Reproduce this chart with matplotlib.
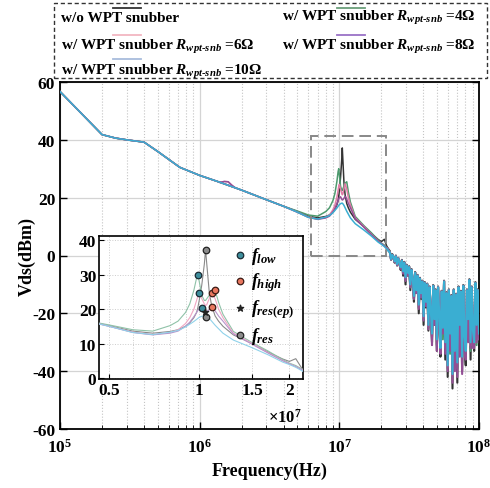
import numpy as np
import matplotlib
matplotlib.use("Agg")
import matplotlib.pyplot as plt
from matplotlib.lines import Line2D
from matplotlib.patches import Rectangle

plt.rcParams['font.family'] = 'Liberation Serif'
plt.rcParams['font.weight'] = 'bold'
plt.rcParams['axes.unicode_minus'] = False
plt.rcParams['mathtext.fontset'] = 'custom'
plt.rcParams['mathtext.rm'] = 'Liberation Serif:bold'
plt.rcParams['mathtext.bf'] = 'Liberation Serif:bold'
plt.rcParams['mathtext.it'] = 'Liberation Serif:bold:italic'

# ---- data ----
# shared low-frequency part (all curves overlap)
base_f = [1e5, 2e5, 2.5e5, 3e5, 4e5, 5e5, 7.2e5, 1e6, 1.4e6, 1.8e6, 2e6, 3e6, 4e6]
base_db = [56.7, 41.8, 40.6, 40.0, 39.2, 36.0, 30.5, 27.7, 25.3, 23.4, 22.6, 19.3, 17.0]

# small bump near 1.6 MHz (6 and 8 ohm curves)
bump_f = [1.4e6, 1.5e6, 1.6e6, 1.7e6, 1.8e6]
bump_db = [25.3, 25.6, 25.5, 24.3, 23.4]

# resonance region
res_f = [5e6, 6e6, 7e6, 8e6, 8.5e6, 9e6, 9.3e6, 9.6e6, 9.8e6, 9.9e6, 1.0e7, 1.02e7,
         1.04e7, 1.05e7, 1.06e7, 1.08e7, 1.1e7, 1.13e7, 1.16e7, 1.2e7, 1.3e7, 1.5e7,
         1.7e7, 1.9e7, 2.0e7, 2.1e7, 2.2e7]
res_wo = [15.2, 13.6, 13.0, 13.5, 14.0, 15.0, 16.0, 17.5, 19.0, 20.5, 22.5, 27.0,
          33.0, 37.2, 33.0, 25.0, 21.0, 18.0, 16.5, 15.0, 12.5, 10.0,
          7.5, 5.5, 4.8, 5.6, 2.8]
res_4 = [15.4, 14.0, 13.6, 15.2, 16.5, 19.0, 21.5, 25.5, 29.0, 30.0, 28.0, 24.0,
         22.5, 22.5, 23.0, 24.0, 25.0, 25.5, 22.0, 18.5, 13.5, 10.3,
         7.8, 5.3, 4.3, 3.6, 2.6]
res_6 = [15.0, 13.3, 12.6, 13.2, 14.0, 15.8, 17.5, 20.0, 22.5, 23.8, 24.6, 23.0,
         21.5, 21.0, 21.3, 23.0, 24.8, 23.0, 20.0, 17.5, 13.0, 10.0,
         7.3, 5.0, 4.1, 3.3, 2.4]
res_8 = [15.0, 13.2, 12.5, 13.0, 13.6, 15.0, 16.2, 17.8, 19.0, 19.6, 20.0, 20.3,
         19.5, 19.2, 19.3, 19.8, 20.5, 19.5, 18.0, 16.5, 12.8, 9.8,
         7.2, 5.0, 4.1, 3.3, 2.4]
res_10 = [15.0, 13.2, 12.6, 13.3, 13.8, 14.8, 15.6, 16.4, 17.0, 17.3, 17.6, 17.9,
          18.1, 18.1, 17.9, 17.3, 16.5, 15.3, 14.3, 13.0, 11.0, 8.8,
          6.7, 4.6, 3.9, 3.1, 2.1]

# high-frequency noisy region (75 samples, log spaced)
noise_f = np.geomspace(2.3e7, 1e8, 75)
noise_wo = [1.5, -1.5, 0.5, -0.8, -2.5, 0.0, -3.5, -0.8, -3.0, -5.0, -1.5, -7.0, -2.2, -10.0,
            -3.2, -7.0, -3.7, -12.0, -4.7, -9.0, -16.0, -5.7, -13.0, -6.7, -20.0, -7.7, -15.0,
            -8.7, -24.0, -9.2, -18.0, -9.7, -26.0, -10.7, -21.0, -30.0, -10.2, -24.0, -11.7,
            -33.0, -10.7, -22.0, -35.0, -12.2, -28.0, -8.7, -36.0, -12.7, -42.0, -11.7, -30.0,
            -13.7, -46.0, -11.7, -38.0, -13.2, -44.0, -10.7, -27.0, -12.2, -40.0, -10.2, -31.0,
            -38.0, -11.7, -25.0, -8.2, -36.0, -10.7, -29.0, -33.0, -9.2, -27.0, -11.7, -30.0]
noise_4 = [1.2, -1.3, 0.3, -0.6, -2.2, -0.2, -3.2, -0.9, -2.7, -4.5, -1.7, -6.0, -2.4, -8.5,
           -3.4, -6.5, -3.9, -11.0, -4.9, -8.5, -15.0, -5.9, -12.5, -6.9, -18.0, -7.9, -14.0,
           -8.9, -22.0, -9.4, -17.0, -9.9, -25.0, -10.9, -20.0, -28.0, -10.4, -23.0, -11.9,
           -31.0, -10.9, -23.0, -33.0, -12.4, -29.0, -8.9, -32.0, -12.9, -39.0, -11.9, -34.0,
           -13.9, -42.0, -11.9, -37.0, -13.4, -39.0, -10.9, -33.0, -12.4, -37.0, -10.4, -35.0,
           -35.0, -11.9, -26.0, -8.4, -33.0, -10.9, -28.0, -31.0, -9.4, -31.0, -11.9, -28.0]
noise_6 = [1.0, -1.3, 0.2, -0.6, -2.2, -0.3, -3.2, -1.0, -2.7, -4.3, -1.8, -6.0, -2.5, -8.0,
           -3.5, -6.5, -4.0, -10.5, -5.0, -8.5, -14.5, -6.0, -12.5, -7.0, -17.5, -8.0, -13.5,
           -9.0, -21.5, -9.5, -16.5, -10.0, -24.5, -11.0, -19.5, -27.5, -10.5, -22.5, -12.0,
           -29.5, -11.0, -21.0, -32.5, -12.5, -26.0, -9.0, -31.0, -13.0, -38.5, -12.0, -28.0,
           -14.0, -41.5, -12.0, -34.0, -13.5, -37.5, -11.0, -25.0, -12.5, -35.5, -10.5, -29.0,
           -33.5, -12.0, -23.0, -8.5, -31.0, -11.0, -27.0, -30.5, -9.5, -25.0, -12.0, -27.5]
noise_8 = [1.1, -1.4, 0.3, -0.7, -2.3, -0.2, -3.3, -0.9, -2.8, -4.6, -1.7, -6.3, -2.4, -8.8,
           -3.4, -6.8, -3.9, -11.0, -4.9, -9.0, -15.0, -5.9, -13.0, -6.9, -18.5, -7.9, -14.5,
           -8.9, -22.5, -9.4, -17.5, -9.9, -25.5, -10.9, -20.5, -31.0, -10.4, -24.0, -11.9,
           -33.0, -10.9, -22.0, -34.0, -12.4, -27.0, -8.9, -34.0, -12.9, -40.0, -11.9, -33.0,
           -13.9, -44.0, -11.9, -40.0, -13.4, -42.0, -10.9, -35.0, -12.4, -41.0, -10.4, -33.0,
           -36.0, -11.9, -30.0, -8.4, -32.0, -10.9, -32.0, -32.0, -9.4, -30.0, -11.9, -29.0]
noise_10 = [1.0, -1.2, 0.2, -0.5, -2.0, -0.3, -3.0, -1.0, -2.5, -4.0, -1.8, -5.5, -2.5, -7.5,
            -3.5, -6.0, -4.0, -10.0, -5.0, -8.0, -14.0, -6.0, -12.0, -7.0, -17.0, -8.0, -13.0,
            -9.0, -21.0, -9.5, -16.0, -10.0, -24.0, -11.0, -19.0, -27.0, -10.5, -22.0, -12.0,
            -29.0, -11.0, -20.0, -32.0, -12.5, -25.0, -9.0, -30.0, -13.0, -38.0, -12.0, -27.0,
            -14.0, -41.0, -12.0, -33.0, -13.5, -37.0, -11.0, -24.0, -12.5, -35.0, -10.5, -28.0,
            -33.0, -12.0, -22.0, -8.5, -30.0, -11.0, -26.0, -30.0, -9.5, -24.0, -12.0, -27.0]

labels = ['w/o WPT snubber',
          r'w/ WPT snubber $R_{wpt\text{-}snb}$ =4Ω',
          r'w/ WPT snubber $R_{wpt\text{-}snb}$ =6Ω',
          r'w/ WPT snubber $R_{wpt\text{-}snb}$ =8Ω',
          r'w/ WPT snubber $R_{wpt\text{-}snb}$ =10Ω']
res_all = [res_wo, res_4, res_6, res_8, res_10]
noise_all = [noise_wo, noise_4, noise_6, noise_8, noise_10]
colors = ['#333333', '#4e9a6e', '#e07ca6', '#934f95', '#3aaed2']
inset_colors = ['#8a8a8a', '#8fc2a8', '#f0a6c2', '#b895cc', '#8fd2ea']
legend_colors = ['#333333', '#6a9e7a', '#f2b6c2', '#9a72c6', '#a8bcdc']

# inset marker points
flow_f = [0.99e7, 1.0e7, 1.02e7]
flow_db = [30.0, 24.6, 20.3]
fhigh_f = [1.1e7, 1.1e7, 1.13e7]
fhigh_db = [24.8, 20.5, 25.5]
fresep_f = [1.048e7]
fresep_db = [19.0]
fres_f = [1.053e7, 1.055e7]
fres_db = [37.2, 17.8]

W, H = 490, 489
fig = plt.figure(figsize=(4.9, 4.89), dpi=100)


def fx(x):
    return x / W


def fy(y):
    return 1 - y / H


ax = fig.add_axes([fx(60), fy(430), fx(419), 347 / H])

smooth_f = list(base_f) + list(res_f)
for i in range(5):
    smooth_db = list(base_db) + list(res_all[i])
    ax.plot(smooth_f, smooth_db, color=colors[i], lw=1.1, zorder=3)
    # noisy tail, joined to the last smooth point
    ax.plot([smooth_f[-1]] + list(noise_f), [smooth_db[-1]] + list(noise_all[i]),
            color=colors[i], lw=1.5, zorder=3)
    if i in (2, 3):
        ax.plot(bump_f, bump_db, color=colors[i], lw=1.1, zorder=3)

ax.set_xscale('log')
ax.set_xlim(1e5, 1e8)
ax.set_ylim(-60, 60)
ax.set_yticks([-60, -40, -20, 0, 20, 40, 60])
ax.grid(True, which='major', color='#d4d4d4', lw=0.9, ls='-')
ax.grid(True, which='minor', axis='x', color='#c4c4c4', lw=0.8, ls=':')
ax.tick_params(which='both', direction='in', top=False, right=True, labelsize=12.5)
ax.tick_params(axis='x', pad=6)
ax.tick_params(which='major', length=5, width=1)
ax.tick_params(which='minor', length=3)
for s in ax.spines.values():
    s.set_linewidth(1.3)
ax.set_xlabel('Frequency(Hz)', fontsize=13, fontweight='bold', labelpad=5)
ax.set_ylabel('Vds(dBm)', fontsize=13, fontweight='bold')
ax.yaxis.set_label_coords(-0.058, 0.5)

# zoom box
ax.add_patch(Rectangle((6.3e6, -0.3), 2.15e7 - 6.3e6, 41.6, fill=False,
                       ec='#888888', lw=1.4, ls=(0, (6, 3)), zorder=5))

# inset
axi = fig.add_axes([fx(99), fy(380), fx(204), 143 / H])
for i in range(5):
    axi.plot(list(base_f) + list(res_f) + list(noise_f),
             list(base_db) + list(res_all[i]) + list(noise_all[i]),
             color=inset_colors[i], lw=0.8, zorder=3)
axi.set_xscale('log')
axi.set_xlim(0.463e7, 2.22e7)
axi.set_ylim(-0.3, 41.2)
axi.set_xticks([0.5e7, 1e7, 1.5e7, 2e7])
axi.set_xticklabels(['0.5', '1', '1.5', '2'])
axi.xaxis.set_minor_formatter(plt.NullFormatter())
axi.set_yticks([0, 10, 20, 30, 40])
axi.grid(True, which='both', color='#cccccc', lw=0.7, ls=':')
axi.tick_params(which='both', direction='in', labelsize=12.5, pad=2)
axi.tick_params(which='minor', length=0)
for s in axi.spines.values():
    s.set_linewidth(1.2)

h1 = axi.scatter(flow_f, flow_db, s=22, c='#3e8e9c', edgecolors='#1a2a33', linewidths=0.9, zorder=6)
h2 = axi.scatter(fhigh_f, fhigh_db, s=22, c='#e9775f', edgecolors='#3a1a14', linewidths=0.9, zorder=6)
h3 = axi.scatter(fresep_f, fresep_db, s=22, marker='*', c='#222222', zorder=7)
h4 = axi.scatter(fres_f, fres_db, s=22, c='#8c8c8c', edgecolors='#222222', linewidths=0.9, zorder=6)
axi.legend([h1, h2, h3, h4], ['$f_{low}$', '$f_{high}$', '$f_{res(ep)}$', '$f_{res}$'],
           loc='upper right', frameon=False, fontsize=13, handletextpad=0.1,
           labelspacing=0.25, borderaxespad=0.1, handlelength=1.0)
fig.text(fx(268), fy(418), r'$\times10^7$', fontsize=12, va='center', ha='left')

# legend box drawn above the axes
fig.patches.append(Rectangle((fx(54), fy(79)), fx(433), 75 / H, transform=fig.transFigure,
                             fill=False, ec='#333333', lw=1.0, ls=(0, (3, 2))))
leg_pos = [(61, 18), (282, 18), (61, 47), (282, 47), (61, 72)]
line_pos = [(113, 9), (337, 9), (113, 36), (337, 36), (113, 60)]
for i in range(5):
    tx, ty = leg_pos[i]
    fig.text(fx(tx), fy(ty), labels[i], fontsize=11, fontweight='bold', va='center', ha='left')
    lx, ly = line_pos[i]
    fig.lines.append(Line2D([fx(lx), fx(lx + 28)], [fy(ly), fy(ly)], transform=fig.transFigure,
                            color=legend_colors[i], lw=1.3))

fig.savefig('out.png', dpi=100)
